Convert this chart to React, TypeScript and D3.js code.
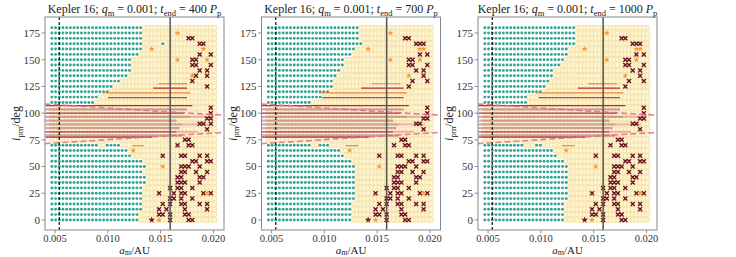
import React from "react";
import * as d3 from "d3";

// ---------------- DATA ----------------
const panelTimes = ["400", "700", "1000"];
const aGrid = [0.0047, 0.00505, 0.0054, 0.00575, 0.0061, 0.00645, 0.0068, 0.00715, 0.0075, 0.00785, 0.0082, 0.00855, 0.0089, 0.00925, 0.0096, 0.00995, 0.0103, 0.01065, 0.011, 0.01135, 0.0117, 0.01205, 0.0124, 0.01275, 0.0131, 0.01345, 0.0138, 0.01415, 0.0145, 0.01485, 0.0152, 0.01555, 0.0159, 0.01625, 0.0166, 0.01695, 0.0173, 0.01765, 0.018, 0.01835, 0.0187, 0.01905, 0.0194, 0.01975, 0.0201];
const incGrid = [0, 5, 10, 15, 20, 25, 30, 35, 40, 45, 50, 55, 60, 65, 70, 75, 80, 85, 90, 95, 100, 105, 110, 115, 120, 125, 130, 135, 140, 145, 150, 155, 160, 165, 170, 175, 180];
const xTicks = [0.005, 0.01, 0.015, 0.02];
const yTicks = [0, 25, 50, 75, 100, 125, 150, 175];

// number of stable (teal) columns in each row, rows 0..180
const tealCount400 = [24, 24, 25, 25, 25, 25, 25, 26, 26, 25, 26, 25, 22, 21, 13, 0, 0, 0, 0, 0, 0, 0, 12, 13, 16, 17, 19, 21, 22, 22, 22, 24, 25, 25, 25, 25, 25];
const tealCount700 = [23, 23, 23, 23, 24, 24, 24, 24, 24, 24, 24, 23, 21, 20, 12, 0, 0, 0, 0, 0, 0, 0, 12, 15, 17, 18, 18, 19, 20, 21, 21, 23, 24, 25, 25, 25, 25];
const tealCount1000 = [22, 22, 22, 22, 23, 23, 23, 23, 23, 23, 23, 22, 20, 19, 11, 0, 0, 0, 0, 0, 0, 0, 12, 12, 16, 17, 18, 19, 19, 21, 22, 23, 23, 25, 25, 25, 25];

// isolated stable cells beyond the boundary [col, inc]
const tealExtra400 = [[15, 70], [16, 70], [17, 70], [18, 70], [30, 165]];
const tealExtra700 = [[14, 70], [15, 70], [16, 70], [25, 165]];
const tealExtra1000 = [[14, 70], [15, 70]];

// ejected / collision cells (x markers) [col, inc]
const xMarks400 = [[37, 170], [38, 170], [40, 165], [41, 165], [40, 155], [43, 155], [38, 150], [39, 150], [38, 145], [39, 145], [43, 145], [40, 140], [42, 140], [39, 135], [42, 135], [38, 130], [42, 125],
  [43, 105], [43, 100], [42, 95], [43, 95], [40, 90], [41, 90], [43, 90], [42, 85], [36, 75], [37, 75], [34, 70], [37, 70], [38, 70],
  [30, 60], [35, 60], [36, 60], [40, 60], [42, 60], [38, 55], [39, 55], [42, 55], [43, 55], [35, 50], [36, 50], [37, 50], [40, 50], [35, 45], [36, 45], [39, 45], [42, 45], [34, 40], [35, 40], [40, 40], [41, 40], [34, 35], [35, 35], [36, 35], [40, 35], [32, 30], [34, 30], [35, 30], [38, 30], [29, 25], [33, 25], [35, 25], [36, 25], [41, 25], [43, 25], [32, 20], [33, 20], [35, 20], [38, 20], [30, 15], [32, 15], [35, 15], [36, 15], [40, 15], [42, 15], [29, 10], [31, 10], [36, 10], [42, 10], [29, 5], [30, 5], [32, 5], [36, 5], [37, 5], [32, 0], [37, 0], [38, 0]];
const xMarks700 = [[37, 170], [38, 170], [40, 165], [41, 165], [42, 165], [41, 155], [43, 155], [38, 150], [39, 150], [38, 145], [39, 145], [43, 145], [40, 140], [42, 140], [42, 135], [39, 130], [43, 130], [38, 125],
  [43, 105], [43, 100], [42, 95], [43, 95], [40, 90], [41, 90], [42, 85], [36, 75], [37, 75], [34, 70], [37, 70], [38, 70],
  [30, 60], [35, 60], [36, 60], [40, 60], [42, 60], [38, 55], [39, 55], [42, 55], [43, 55], [35, 50], [36, 50], [37, 50], [40, 50], [35, 45], [36, 45], [39, 45], [42, 45], [34, 40], [35, 40], [40, 40], [41, 40], [34, 35], [35, 35], [36, 35], [40, 35], [32, 30], [34, 30], [35, 30], [38, 30], [29, 25], [33, 25], [35, 25], [36, 25], [41, 25], [43, 25], [32, 20], [33, 20], [35, 20], [38, 20], [30, 15], [32, 15], [35, 15], [36, 15], [40, 15], [42, 15], [29, 10], [31, 10], [36, 10], [42, 10], [29, 5], [30, 5], [32, 5], [36, 5], [37, 5], [32, 0], [37, 0], [38, 0]];
const xMarks1000 = [[37, 170], [38, 170], [40, 165], [41, 165], [42, 165], [41, 155], [43, 155], [38, 150], [39, 150], [38, 145], [39, 145], [43, 145], [40, 140], [42, 140], [42, 135], [39, 130], [43, 130], [38, 125],
  [43, 105], [43, 100], [42, 95], [43, 95], [40, 90], [41, 90], [42, 85], [36, 75], [37, 75], [34, 70], [37, 70], [38, 70],
  [30, 60], [35, 60], [36, 60], [40, 60], [42, 60], [38, 55], [39, 55], [42, 55], [43, 55], [35, 50], [36, 50], [37, 50], [40, 50], [35, 45], [36, 45], [39, 45], [42, 45], [34, 40], [35, 40], [40, 40], [41, 40], [34, 35], [35, 35], [36, 35], [40, 35], [32, 30], [34, 30], [35, 30], [38, 30], [29, 25], [33, 25], [35, 25], [36, 25], [41, 25], [43, 25], [32, 20], [33, 20], [35, 20], [38, 20], [30, 15], [32, 15], [35, 15], [36, 15], [40, 15], [42, 15], [29, 10], [31, 10], [36, 10], [42, 10], [29, 5], [30, 5], [32, 5], [36, 5], [37, 5], [32, 0], [37, 0], [38, 0]];

// orange stars [col, inc]
const stars400 = [[34, 175], [41, 160], [42, 150], [34, 150], [38, 135], [27, 160], [22, 65], [30, 50], [42, 25], [29, 0]];
const stars700 = [[33, 175], [41, 160], [42, 160], [41, 150], [33, 150], [38, 135], [27, 160], [22, 65], [30, 50], [42, 25], [29, 0]];
const stars1000 = [[33, 175], [41, 160], [42, 160], [41, 150], [33, 150], [38, 135], [27, 160], [22, 65], [30, 50], [42, 25], [29, 0]];
// dark filled star (collision)
const darkStars = [[27, 0]];

// horizontal lines: [inc, aStart, aEnd, kind]
const lines400 = [
  [127.5, 0.0148, 0.0175, "orange"], [123.5, 0.0143, 0.0175, "crimson"], [119, 0.0095, 0.0178, "orange"], [114.5, 0.01, 0.0175, "red"],
  [107, 0.0041, 0.018, "crimson"], [103.5, 0.0041, 0.0175, "mauve"], [100, 0.0041, 0.0172, "crimson"], [96.5, 0.0041, 0.0178, "mauve"],
  [93, 0.0041, 0.0165, "mauve"], [89.5, 0.0041, 0.017, "mauve"], [86, 0.0041, 0.0168, "mauve"], [82.5, 0.0041, 0.0165, "crimson"],
  [79, 0.0041, 0.017, "mauve"], [77.5, 0.0041, 0.0142, "crimson"], [69.5, 0.0123, 0.0134, "orange"],
  [96.5, 0.0178, 0.02, "pink"], [89.5, 0.017, 0.0195, "pink"], [82.5, 0.0165, 0.0185, "pink"]];
const lines700 = [
  [127.5, 0.0145, 0.0172, "orange"], [123.5, 0.0135, 0.0175, "crimson"], [119, 0.0095, 0.0178, "orange"], [114.5, 0.0098, 0.0175, "red"],
  [107, 0.0041, 0.018, "crimson"], [103.5, 0.0041, 0.0175, "mauve"], [100, 0.0041, 0.0172, "crimson"], [96.5, 0.0041, 0.0178, "mauve"],
  [93, 0.0041, 0.0165, "mauve"], [89.5, 0.0041, 0.017, "mauve"], [86, 0.0041, 0.0168, "mauve"], [82.5, 0.0041, 0.0165, "crimson"],
  [79, 0.0041, 0.017, "mauve"], [77.5, 0.0041, 0.0142, "crimson"], [69.5, 0.012, 0.0132, "orange"],
  [96.5, 0.0178, 0.02, "pink"], [89.5, 0.017, 0.0195, "pink"], [82.5, 0.0165, 0.0185, "pink"]];
const lines1000 = [
  [127.5, 0.0145, 0.0172, "orange"], [123.5, 0.0135, 0.0175, "crimson"], [119, 0.0095, 0.0178, "orange"], [114.5, 0.0098, 0.0175, "red"],
  [107, 0.0041, 0.018, "crimson"], [103.5, 0.0041, 0.0175, "mauve"], [100, 0.0041, 0.0172, "crimson"], [96.5, 0.0041, 0.0178, "mauve"],
  [93, 0.0041, 0.0165, "mauve"], [89.5, 0.0041, 0.017, "mauve"], [86, 0.0041, 0.0168, "mauve"], [82.5, 0.0041, 0.0165, "crimson"],
  [79, 0.0041, 0.017, "mauve"], [77.5, 0.0041, 0.0142, "crimson"], [69.5, 0.012, 0.0132, "orange"],
  [96.5, 0.0178, 0.02, "pink"], [89.5, 0.017, 0.0195, "pink"], [82.5, 0.0165, 0.0185, "pink"]];

// critical inclination curves
const critA = [0.004, 0.008, 0.012, 0.016, 0.0215];
const critUpper = [108.6, 106.1, 103.5, 101.0, 97.8];
const critLower = [71.4, 73.9, 76.5, 79.0, 82.2];
const innerLimitA = 0.0054;
const outerLimitA = 0.0159;

const bandMin = 75;
const bandMax = 105;

const panels = [
  { time: panelTimes[0], teal: tealCount400, tealExtra: tealExtra400, xs: xMarks400, stars: stars400, lines: lines400 },
  { time: panelTimes[1], teal: tealCount700, tealExtra: tealExtra700, xs: xMarks700, stars: stars700, lines: lines700 },
  { time: panelTimes[2], teal: tealCount1000, tealExtra: tealExtra1000, xs: xMarks1000, stars: stars1000, lines: lines1000 },
];

// ---------------- LAYOUT ----------------
const W = 736;
const H = 257;
const panelLefts = [45, 261.5, 478];
const PW = 179;
const PT = 17;
const PH = 213;
const FONT = "'Liberation Serif', 'DejaVu Serif', serif";

const lineStyle: Record<string, { c: string; w: number; o: number }> = {
  crimson: { c: "#a3183c", w: 1.3, o: 0.9 },
  red: { c: "#c8283a", w: 1.2, o: 0.9 },
  mauve: { c: "#a8506e", w: 2.4, o: 0.5 },
  orange: { c: "#f07a2a", w: 1.2, o: 0.9 },
  pink: { c: "#e8809a", w: 2.0, o: 0.55 },
};

const starPath = d3.symbol(d3.symbolStar, 11)()!;
const darkStarPath = d3.symbol(d3.symbolStar, 14)()!;

function Panel({ p, left }: { p: any; left: number }) {
  const x = d3.scaleLinear().domain([0.00405, 0.021]).range([0, PW]);
  const y = d3.scaleLinear().domain([-9.4, 190]).range([PH, 0]);
  const extraSet = new Set(p.tealExtra.map((d: number[]) => d[0] + "," + d[1]));
  const yellow: [number, number][] = [];
  const teal: [number, number][] = [];
  incGrid.forEach((inc, ri) => {
    aGrid.forEach((a, ci) => {
      const key = ci + "," + inc;
      const isTeal = (ci < p.teal[ri] || extraSet.has(key)) && !(inc >= bandMin && inc <= bandMax);
      if (isTeal) teal.push([a, inc]);
      else yellow.push([a, inc]);
    });
  });
  const crit = d3.line<number>().x((d, i) => x(critA[i])).y((d) => y(d)).curve(d3.curveMonotoneX);
  const clipId = "clip" + p.time;
  return (
    <g transform={`translate(${left},${PT})`}>
      <defs>
        <clipPath id={clipId}>
          <rect x={0} y={0} width={PW} height={PH} />
        </clipPath>
      </defs>
      <g clipPath={`url(#${clipId})`}>
        {yellow.map(([a, inc], i) => (
          <circle key={"y" + i} cx={x(a)} cy={y(inc)} r={2.5} fill="#fdf5d6" stroke="#f1d88e" strokeWidth={0.7} />
        ))}
        {teal.map(([a, inc], i) => (
          <circle key={"t" + i} cx={x(a)} cy={y(inc)} r={1.45} fill="#33a592" />
        ))}
        {p.lines.map((l: any[], i: number) => {
          const s = lineStyle[l[3]];
          return <line key={"l" + i} x1={x(l[1])} x2={x(l[2])} y1={y(l[0])} y2={y(l[0])} stroke={s.c} strokeWidth={s.w} strokeOpacity={s.o} />;
        })}
        {p.xs.map((d: number[], i: number) => {
          const cx = x(aGrid[d[0]]);
          const cy = y(d[1]);
          const r = 2.0;
          return (
            <path key={"x" + i} d={`M${cx - r},${cy - r}L${cx + r},${cy + r}M${cx - r},${cy + r}L${cx + r},${cy - r}`} stroke="#6a1222" strokeWidth={1.4} />
          );
        })}
        {p.stars.map((d: number[], i: number) => (
          <path key={"s" + i} d={starPath} transform={`translate(${x(aGrid[d[0]])},${y(d[1])})`} fill="#f59a3c" />
        ))}
        {darkStars.map((d, i) => (
          <path key={"ds" + i} d={darkStarPath} transform={`translate(${x(aGrid[d[0]])},${y(d[1])})`} fill="#7a0f25" />
        ))}
        <path d={crit(critUpper)!} fill="none" stroke="#e06a88" strokeWidth={1.6} strokeDasharray="6,3" strokeOpacity={0.85} />
        <path d={crit(critLower)!} fill="none" stroke="#e06a88" strokeWidth={1.6} strokeDasharray="6,3" strokeOpacity={0.85} />
        <line x1={x(innerLimitA)} x2={x(innerLimitA)} y1={0} y2={PH} stroke="#111" strokeWidth={1.2} strokeDasharray="3,2" />
        <line x1={x(outerLimitA)} x2={x(outerLimitA)} y1={0} y2={PH} stroke="#555" strokeWidth={1.5} />
      </g>
      <rect x={0} y={0} width={PW} height={PH} fill="none" stroke="#888" strokeWidth={1} />
      {xTicks.map((t) => (
        <g key={"xt" + t}>
          <line x1={x(t)} x2={x(t)} y1={PH} y2={PH + 3.5} stroke="#777" strokeWidth={0.8} />
          <text x={x(t)} y={PH + 12} textAnchor="middle" fontSize={10.5} fill="#333" fontFamily={FONT}>{d3.format(".3f")(t)}</text>
        </g>
      ))}
      {yTicks.map((t) => (
        <g key={"yt" + t}>
          <line x1={-3.5} x2={0} y1={y(t)} y2={y(t)} stroke="#777" strokeWidth={0.8} />
          <text x={-5} y={y(t) + 3.8} textAnchor="end" fontSize={11} fill="#333" fontFamily={FONT}>{t}</text>
        </g>
      ))}
      <text x={PW / 2} y={-4} textAnchor="middle" fontSize={12} fill="#222" fontFamily={FONT}>
        Kepler 16; <tspan fontStyle="italic">q</tspan><tspan fontSize={8.5} dy={2.5}>m</tspan><tspan dy={-2.5}> = 0.001; </tspan>
        <tspan fontStyle="italic">t</tspan><tspan fontSize={8.5} dy={2.5}>end</tspan><tspan dy={-2.5}> = {p.time} </tspan>
        <tspan fontStyle="italic">P</tspan><tspan fontSize={8.5} dy={2.5}>p</tspan>
      </text>
      <text x={PW / 2} y={PH + 23.5} textAnchor="middle" fontSize={11} fill="#222" fontFamily={FONT}>
        <tspan fontStyle="italic">a</tspan><tspan fontSize={8} dy={1.2}>m</tspan><tspan dy={-1.2}>/AU</tspan>
      </text>
      <text transform={`translate(-25,${PH / 2}) rotate(-90)`} textAnchor="middle" fontSize={12} fill="#222" fontFamily={FONT}>
        <tspan fontStyle="italic">i</tspan><tspan fontSize={8.5} dy={2.5}>pm</tspan><tspan dy={-2.5}>/deg</tspan>
      </text>
    </g>
  );
}

export default function App() {
  return (
    <svg width={W} height={H} style={{ position: "absolute", left: 0, top: 0, background: "#fff" }}>
      {panels.map((p, i) => (
        <Panel key={i} p={p} left={panelLefts[i]} />
      ))}
    </svg>
  );
}
